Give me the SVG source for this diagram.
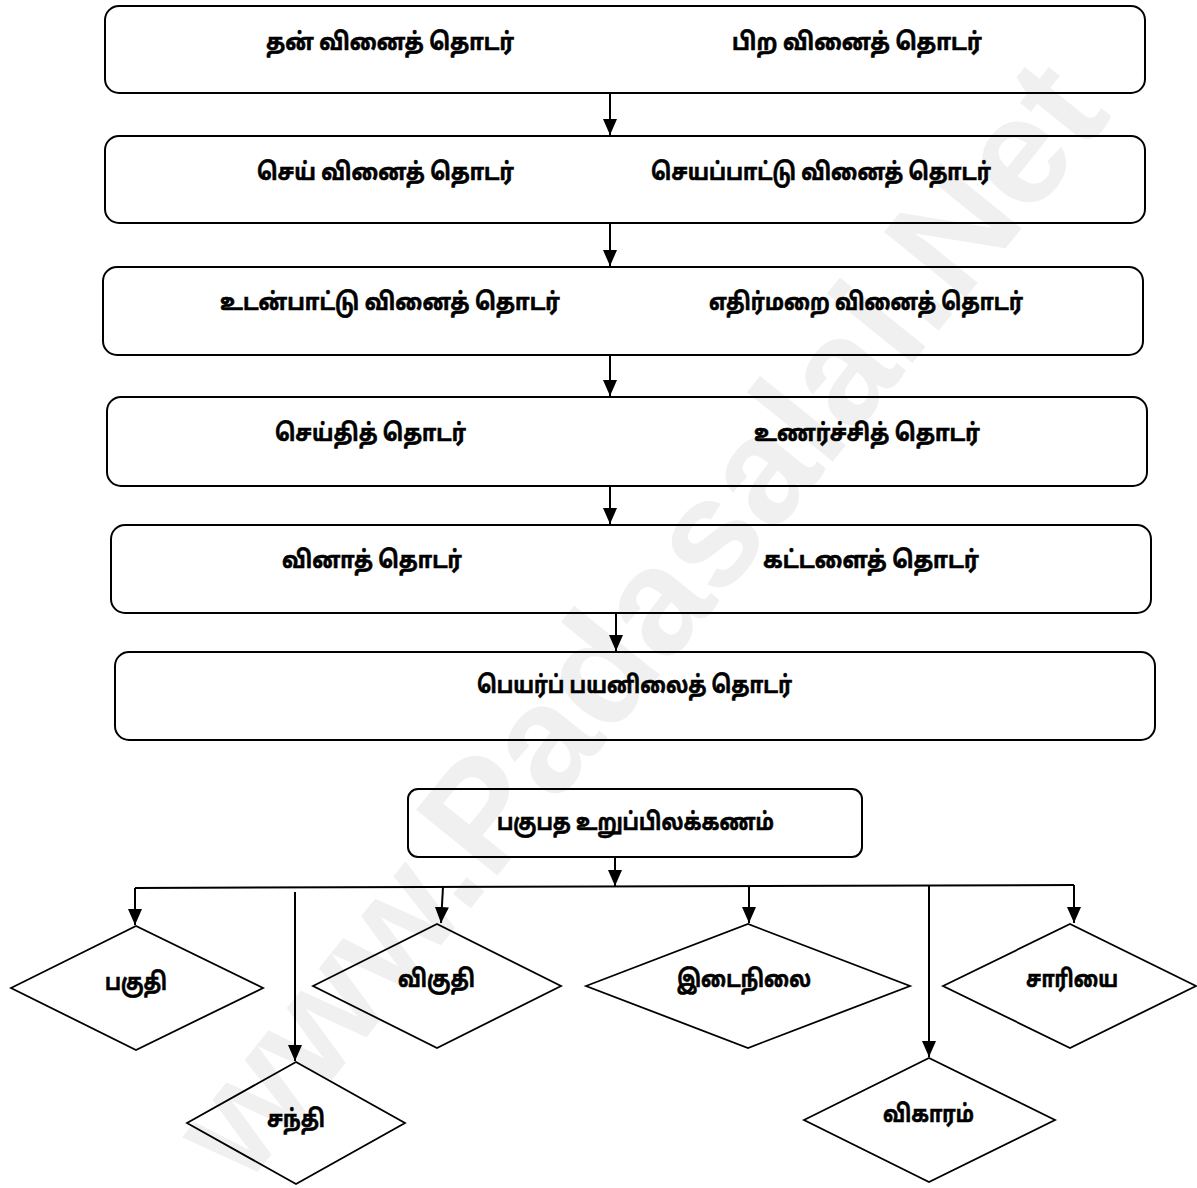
<svg xmlns="http://www.w3.org/2000/svg" width="1197" height="1188" viewBox="0 0 1197 1188">
<style>
.box{fill:none;stroke:#000;stroke-width:2}
.dia{fill:none;stroke:#000;stroke-width:1.8}
.t{font-family:"Noto Sans Tamil","Lohit Tamil","Noto Sans",sans-serif;font-weight:bold;font-size:24px;fill:#000;stroke:#000;stroke-width:0.6}
.c{fill:none;stroke:#000;stroke-width:2}
.wm{font-family:"Liberation Sans",Arial,sans-serif;font-weight:bold;font-size:152px;fill:#f0f0f0}
</style>
<defs>
<marker id="arr" markerUnits="userSpaceOnUse" markerWidth="16" markerHeight="14" viewBox="0 0 16 14" refX="16" refY="7" orient="auto">
<path d="M0,0 L16,7 L0,14 Z" fill="#000"/>
</marker>
</defs>
<text class="wm" x="640" y="670" text-anchor="middle" transform="rotate(-51 640 620)">www.Padasalai.Net</text>

<g id="n1"><rect class="box" x="105" y="6" width="1040" height="87" rx="14"/>
<text class="t" x="266" y="50" textLength="248" lengthAdjust="spacingAndGlyphs">தன் வினைத் தொடர்</text>
<text class="t" x="732" y="50" textLength="250" lengthAdjust="spacingAndGlyphs">பிற வினைத் தொடர்</text></g>
<g id="n2"><rect class="box" x="105" y="136" width="1040" height="87" rx="14"/>
<text class="t" x="257" y="180" textLength="257" lengthAdjust="spacingAndGlyphs">செய் வினைத் தொடர்</text>
<text class="t" x="651" y="180" textLength="340" lengthAdjust="spacingAndGlyphs">செயப்பாட்டு வினைத் தொடர்</text></g>
<g id="n3"><rect class="box" x="103" y="267" width="1040" height="88" rx="14"/>
<text class="t" x="220" y="310" textLength="340" lengthAdjust="spacingAndGlyphs">உடன்பாட்டு வினைத் தொடர்</text>
<text class="t" x="709" y="310" textLength="314" lengthAdjust="spacingAndGlyphs">எதிர்மறை வினைத் தொடர்</text></g>
<g id="n4"><rect class="box" x="107" y="397" width="1040" height="89" rx="14"/>
<text class="t" x="275" y="441" textLength="191" lengthAdjust="spacingAndGlyphs">செய்தித் தொடர்</text>
<text class="t" x="754" y="441" textLength="226" lengthAdjust="spacingAndGlyphs">உணர்ச்சித் தொடர்</text></g>
<g id="n5"><rect class="box" x="111" y="525" width="1040" height="88" rx="14"/>
<text class="t" x="282" y="568" textLength="180" lengthAdjust="spacingAndGlyphs">வினாத் தொடர்</text>
<text class="t" x="763" y="568" textLength="216" lengthAdjust="spacingAndGlyphs">கட்டளைத் தொடர்</text></g>
<g id="n6"><rect class="box" x="115" y="652" width="1040" height="88" rx="14"/>
<text class="t" x="477" y="693" textLength="315" lengthAdjust="spacingAndGlyphs">பெயர்ப் பயனிலைத் தொடர்</text></g>
<g id="n7"><rect class="box" x="408" y="789" width="454" height="68" rx="10"/>
<text class="t" x="497" y="830" textLength="277" lengthAdjust="spacingAndGlyphs">பகுபத உறுப்பிலக்கணம்</text></g>

<g id="d1"><polygon class="dia" points="11,988 136,926 263,988 136,1050"/><text class="t" x="105" y="990" textLength="62" lengthAdjust="spacingAndGlyphs">பகுதி</text></g>
<g id="d2"><polygon class="dia" points="187,1123 296,1062 405,1123 296,1184"/><text class="t" x="267" y="1127" textLength="58" lengthAdjust="spacingAndGlyphs">சந்தி</text></g>
<g id="d3"><polygon class="dia" points="313,986 437,924 561,986 437,1048"/><text class="t" x="398" y="987" textLength="77" lengthAdjust="spacingAndGlyphs">விகுதி</text></g>
<g id="d4"><polygon class="dia" points="586,986 748,924 910,986 748,1048"/><text class="t" x="677" y="987" textLength="134" lengthAdjust="spacingAndGlyphs">இடைநிலை</text></g>
<g id="d5"><polygon class="dia" points="804,1120 929,1058 1055,1120 929,1182"/><text class="t" x="883" y="1122" textLength="91" lengthAdjust="spacingAndGlyphs">விகாரம்</text></g>
<g id="d6"><polygon class="dia" points="943,986 1070,924 1196,986 1070,1048"/><text class="t" x="1026" y="987" textLength="92" lengthAdjust="spacingAndGlyphs">சாரியை</text></g>

<g id="connectors">
<path class="c" d="M610,93 V135" marker-end="url(#arr)"/>
<path class="c" d="M610,223 V266" marker-end="url(#arr)"/>
<path class="c" d="M610,355 V396" marker-end="url(#arr)"/>
<path class="c" d="M610,486 V524" marker-end="url(#arr)"/>
<path class="c" d="M616,613 V651" marker-end="url(#arr)"/>
<path class="c" d="M615,857 V886" marker-end="url(#arr)"/>
<path class="c" d="M135,888 L1074,885"/>
<path class="c" d="M135,888 V925" marker-end="url(#arr)"/>
<path class="c" d="M443,887 L441,923" marker-end="url(#arr)"/>
<path class="c" d="M749,886 V923" marker-end="url(#arr)"/>
<path class="c" d="M1074,885 V923" marker-end="url(#arr)"/>
<path class="c" d="M295,892 V1061" marker-end="url(#arr)"/>
<path class="c" d="M929,886 V1057" marker-end="url(#arr)"/>
</g>
</svg>
